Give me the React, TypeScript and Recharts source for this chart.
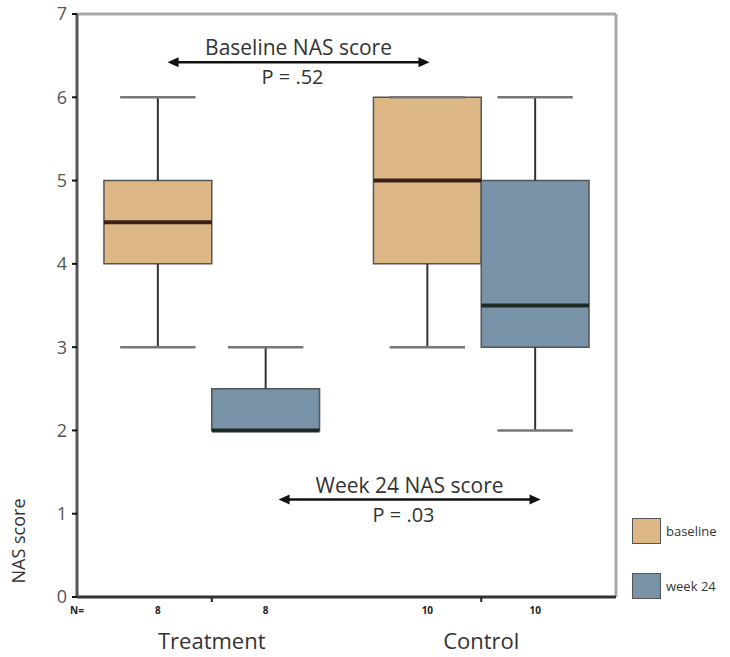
import React from 'react'
import {
  ComposedChart, XAxis, YAxis, Scatter, ReferenceArea, ReferenceLine,
} from 'recharts'

// box centres on the x scale (0..5)
const positions = [0.75, 1.75, 3.25, 4.25]
const series = ['baseline', 'week 24', 'baseline', 'week 24']
const mins = [3, 2, 3, 2]
const q1s = [4, 2, 4, 3]
const medians = [4.5, 2, 5, 3.5]
const q3s = [5, 2.5, 6, 5]
const maxs = [6, 3, 6, 6]

const countLabels = ['8', '8', '10', '10']
const groups = ['Treatment', 'Control']
const groupCenters = [1.25, 3.75]
const yTicks = [0, 1, 2, 3, 4, 5, 6, 7]

const annotations = [
  { title: 'Baseline NAS score', p: 'P = .52', from: 0.84, to: 3.27, y: 6.42 },
  { title: 'Week 24 NAS score', p: 'P = .03', from: 1.87, to: 4.3, y: 1.17 },
]

const legendItems = ['baseline', 'week 24']

const fills: Record<string, string> = { baseline: '#ddb886', 'week 24': '#7893a8' }
const medianColors: Record<string, string> = { baseline: '#3a2016', 'week 24': '#1b2a22' }

const FONT = '"Open Sans", sans-serif'

const boxes = positions.map((x, i) => ({
  x, series: series[i], min: mins[i], q1: q1s[i], median: medians[i], q3: q3s[i], max: maxs[i],
}))

function XTick(props: any) {
  const { x, y, payload } = props
  const v = payload.value
  if (v === 0) {
    return (
      <text x={x} y={y + 17} textAnchor="middle" fontSize={10} fontWeight="bold" fill="#222" fontFamily={FONT}>
        N=
      </text>
    )
  }
  const pi = positions.indexOf(v)
  if (pi >= 0) {
    return (
      <text x={x} y={y + 17} textAnchor="middle" fontSize={10} fontWeight="bold" fill="#222" fontFamily={FONT}>
        {countLabels[pi]}
      </text>
    )
  }
  const gi = groupCenters.indexOf(v)
  if (gi >= 0) {
    return (
      <g>
        <line x1={x} y1={y} x2={x} y2={y + 5} stroke="#222" strokeWidth={2} />
        <text x={x} y={y + 52} textAnchor="middle" fontSize={22} fill="#333" fontFamily={FONT}>
          {groups[gi]}
        </text>
      </g>
    )
  }
  return <g />
}

function Arrow(props: any, a: typeof annotations[number]) {
  const { x1, y1, x2 } = props
  const mid = (x1 + x2) / 2
  return (
    <g>
      <line x1={x1 + 6} y1={y1} x2={x2 - 6} y2={y1} stroke="#111" strokeWidth={2.5} />
      <polygon points={`${x1},${y1} ${x1 + 11},${y1 - 5} ${x1 + 11},${y1 + 5}`} fill="#111" />
      <polygon points={`${x2},${y1} ${x2 - 11},${y1 - 5} ${x2 - 11},${y1 + 5}`} fill="#111" />
      <text x={mid} y={y1 - 7} textAnchor="middle" fontSize={21} fill="#333" fontFamily={FONT}>
        {a.title}
      </text>
      <text x={mid - 6} y={y1 + 22} textAnchor="middle" fontSize={20} fill="#333" fontFamily={FONT}>
        {a.p}
      </text>
    </g>
  )
}

export default function App() {
  return (
    <div style={{ position: 'absolute', left: 0, top: 0, width: 730, height: 657, background: '#fff' }}>
      <ComposedChart
        width={730}
        height={657}
        data={boxes}
        margin={{ top: 14, right: 114, left: 37, bottom: 0 }}
      >
        <XAxis
          dataKey="x"
          type="number"
          domain={[0, 5]}
          ticks={[0, ...positions, ...groupCenters].sort((a, b) => a - b)}
          interval={0}
          tickLine={false}
          tickSize={0}
          tickMargin={0}
          height={60}
          axisLine={{ stroke: '#333', strokeWidth: 3 }}
          tick={<XTick />}
          allowDataOverflow
        />
        <YAxis
          type="number"
          domain={[0, 7]}
          ticks={yTicks}
          interval={0}
          width={40}
          tickSize={5}
          tickMargin={5}
          tickLine={{ stroke: '#111', strokeWidth: 2 }}
          axisLine={{ stroke: '#555', strokeWidth: 3 }}
          tick={{ fill: '#555', fontSize: 18, fontFamily: FONT }}
          label={({ viewBox }: any) => (
            <text
              x={viewBox.x - 12}
              y={viewBox.y + viewBox.height - 56}
              transform={`rotate(-90 ${viewBox.x - 12} ${viewBox.y + viewBox.height - 56})`}
              textAnchor="middle"
              fontSize={18}
              fill="#333"
              fontFamily={FONT}
            >
              NAS score
            </text>
          )}
        />

        <ReferenceLine y={7} stroke="#aaa" strokeWidth={3} ifOverflow="visible" />
        <ReferenceLine x={5} stroke="#aaa" strokeWidth={3} ifOverflow="visible" />

        {boxes.map((b, i) => (
          <ReferenceLine
            key={`uw${i}`}
            segment={[{ x: b.x, y: b.q3 }, { x: b.x, y: b.max }]}
            stroke="#333"
            strokeWidth={2}
          />
        ))}
        {boxes.map((b, i) => (
          <ReferenceLine
            key={`uc${i}`}
            segment={[{ x: b.x - 0.35, y: b.max }, { x: b.x + 0.35, y: b.max }]}
            stroke="#777"
            strokeWidth={2.5}
          />
        ))}
        {boxes.filter((b) => b.min < b.q1).map((b, i) => (
          <ReferenceLine
            key={`lw${i}`}
            segment={[{ x: b.x, y: b.min }, { x: b.x, y: b.q1 }]}
            stroke="#333"
            strokeWidth={2}
          />
        ))}
        {boxes.filter((b) => b.min < b.q1).map((b, i) => (
          <ReferenceLine
            key={`lc${i}`}
            segment={[{ x: b.x - 0.35, y: b.min }, { x: b.x + 0.35, y: b.min }]}
            stroke="#777"
            strokeWidth={2.5}
          />
        ))}

        {boxes.map((b, i) => (
          <ReferenceArea
            key={`box${i}`}
            x1={b.x - 0.5}
            x2={b.x + 0.5}
            y1={b.q1}
            y2={b.q3}
            fill={fills[b.series]}
            fillOpacity={1}
            stroke="#555"
            strokeWidth={1.5}
          />
        ))}
        {boxes.map((b, i) => (
          <ReferenceLine
            key={`med${i}`}
            segment={[{ x: b.x - 0.5, y: b.median }, { x: b.x + 0.5, y: b.median }]}
            stroke={medianColors[b.series]}
            strokeWidth={4}
          />
        ))}

        {annotations.map((a, i) => (
          <ReferenceLine
            key={`ann${i}`}
            segment={[{ x: a.from, y: a.y }, { x: a.to, y: a.y }]}
            ifOverflow="visible"
            shape={(p: any) => Arrow(p, a)}
          />
        ))}

        <Scatter dataKey="median" isAnimationActive={false} shape={() => <g />} />
      </ComposedChart>

      <div style={{ position: 'absolute', left: 632, top: 517, fontFamily: FONT }}>
        {legendItems.map((s, i) => (
          <div key={s} style={{ display: 'flex', alignItems: 'center', height: 27, marginBottom: i === 0 ? 28 : 0 }}>
            <div style={{ width: 29, height: 26, background: fills[s], border: '1.5px solid #555', boxSizing: 'border-box' }} />
            <span style={{ marginLeft: 5, fontSize: 13, color: '#333' }}>{s}</span>
          </div>
        ))}
      </div>
    </div>
  )
}
